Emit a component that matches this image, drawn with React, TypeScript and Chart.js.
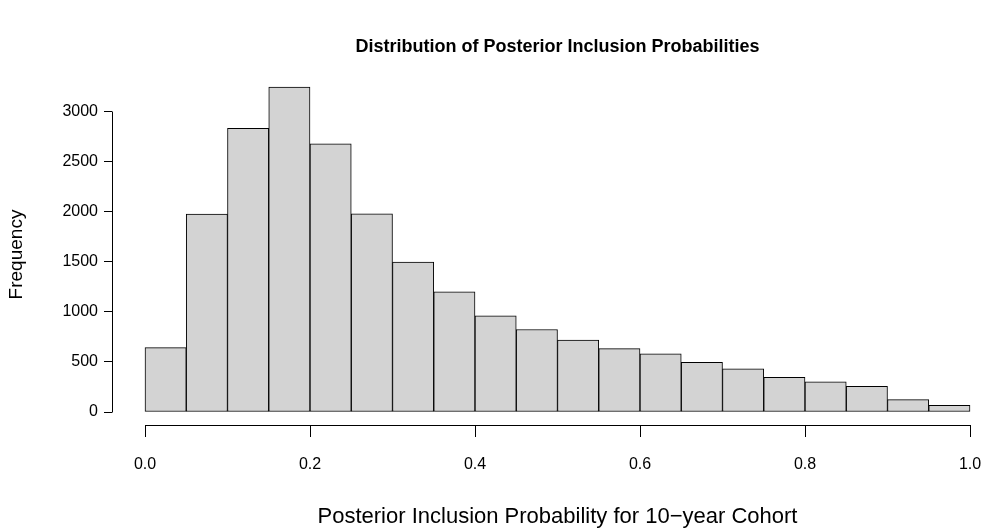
import React, { useEffect, useRef } from 'react';
import { Chart, registerables } from 'chart.js';

Chart.register(...registerables);

// ---- data ----
const binStarts = [0.0, 0.05, 0.1, 0.15, 0.2, 0.25, 0.3, 0.35, 0.4, 0.45, 0.5, 0.55, 0.6, 0.65, 0.7, 0.75, 0.8, 0.85, 0.9, 0.95];
const binWidth = 0.05;
const counts = [643, 1975, 2831, 3243, 2675, 1978, 1497, 1198, 959, 823, 717, 633, 581, 496, 431, 346, 302, 256, 124, 67];
const xTickValues = [0.0, 0.2, 0.4, 0.6, 0.8, 1.0];
const xTickLabels = ['0.0', '0.2', '0.4', '0.6', '0.8', '1.0'];
const yTickValues = [0, 500, 1000, 1500, 2000, 2500, 3000];
const yTickLabels = ['0', '500', '1000', '1500', '2000', '2500', '3000'];
const titleText = 'Distribution of Posterior Inclusion Probabilities';
const xTitleText = 'Posterior Inclusion Probability for 10\u2212year Cohort';
const yTitleText = 'Frequency';

const FONT = '"Liberation Sans", Arial, Helvetica, sans-serif';

const rDecor = {
  id: 'rDecor',
  afterDraw(chart: any) {
    const ctx = chart.ctx;
    const xs = chart.scales.x;
    const ys = chart.scales.y;
    const ca = chart.chartArea;
    ctx.save();
    ctx.strokeStyle = '#000';
    ctx.lineWidth = 1;
    // y axis line (only over tick range)
    const lx = Math.round(ca.left) + 0.5;
    ctx.beginPath();
    ctx.moveTo(lx, Math.round(ys.getPixelForValue(yTickValues[0])) + 0.5);
    ctx.lineTo(lx, Math.round(ys.getPixelForValue(yTickValues[yTickValues.length - 1])) + 0.5);
    ctx.stroke();
    // x axis line
    const by = Math.round(ca.bottom) + 0.5;
    ctx.beginPath();
    ctx.moveTo(Math.round(xs.getPixelForValue(xTickValues[0])) + 0.5, by);
    ctx.lineTo(Math.round(xs.getPixelForValue(xTickValues[xTickValues.length - 1])) + 0.5, by);
    ctx.stroke();

    ctx.fillStyle = '#000';
    const cx = xs.getPixelForValue(0.5);
    ctx.textAlign = 'center';
    ctx.textBaseline = 'middle';
    ctx.font = `bold 18px ${FONT}`;
    ctx.fillText(titleText, cx, 47);
    ctx.font = `22px ${FONT}`;
    ctx.fillText(xTitleText, cx, 517);
    ctx.font = `19px ${FONT}`;
    ctx.save();
    ctx.translate(17, (ca.top + ca.bottom) / 2 + 5);
    ctx.rotate(-Math.PI / 2);
    ctx.fillText(yTitleText, 0, 0);
    ctx.restore();
    ctx.restore();
  },
};

export default function App() {
  const ref = useRef<HTMLCanvasElement | null>(null);
  useEffect(() => {
    if (!ref.current) return;
    const maxCount = Math.max(...counts);
    const chart = new Chart(ref.current, {
      type: 'bar',
      data: {
        datasets: [
          {
            data: binStarts.map((s, i) => ({ x: s + binWidth / 2, y: counts[i] })),
            backgroundColor: '#d3d3d3',
            borderColor: '#000000',
            borderWidth: 1,
            borderSkipped: false,
            barPercentage: 1,
            categoryPercentage: 1,
          },
        ],
      },
      options: {
        animation: false,
        responsive: false,
        devicePixelRatio: 1,
        layout: { padding: { top: 74, left: 0, right: 0, bottom: 0 } },
        plugins: { legend: { display: false }, tooltip: { enabled: false }, title: { display: false } },
        scales: {
          x: {
            type: 'linear',
            offset: false,
            min: -0.04,
            max: -0.04 + 876 / 825,
            afterBuildTicks: (s: any) => {
              s.ticks = xTickValues.map((v) => ({ value: v }));
            },
            afterFit: (s: any) => {
              s.height = 106;
              s.paddingLeft = 0;
              s.paddingRight = 0;
            },
            ticks: {
              callback: (v: any) => xTickLabels[xTickValues.indexOf(Number(v))] ?? '',
              font: { family: FONT, size: 16 },
              color: '#000',
              padding: 18,
              maxRotation: 0,
              autoSkip: false,
            },
            grid: { display: true, offset: false, drawOnChartArea: false, drawTicks: true, tickLength: 12, color: '#000', lineWidth: 1 },
            border: { display: false },
          },
          y: {
            type: 'linear',
            min: -0.04 * maxCount,
            max: 1.04 * maxCount,
            afterBuildTicks: (s: any) => {
              s.ticks = yTickValues.map((v) => ({ value: v }));
            },
            afterFit: (s: any) => {
              s.width = 112;
              s.paddingTop = 0;
              s.paddingBottom = 0;
            },
            ticks: {
              callback: (v: any) => yTickLabels[yTickValues.indexOf(Number(v))] ?? '',
              font: { family: FONT, size: 16 },
              color: '#000',
              padding: 6,
              autoSkip: false,
            },
            grid: { display: true, drawOnChartArea: false, drawTicks: true, tickLength: 8, color: '#000', lineWidth: 1 },
            border: { display: false },
          },
        },
      },
      plugins: [rDecor],
    });
    return () => chart.destroy();
  }, []);
  return (
    <div style={{ position: 'fixed', left: 0, top: 0, width: 988, height: 531, background: '#fff' }}>
      <canvas ref={ref} width={988} height={531} style={{ display: 'block' }} />
    </div>
  );
}
